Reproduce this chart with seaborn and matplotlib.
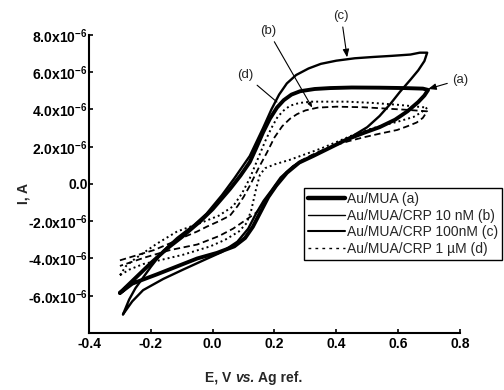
import matplotlib
matplotlib.use("Agg")
import matplotlib.pyplot as plt
from matplotlib.lines import Line2D
import seaborn as sns
import pandas as pd

# ---- data (E in V, I in microamps) ----
# (a) Au/MUA: forward branch then return branch (closed loop)
E_a = [-0.30, -0.25, -0.20, -0.147, -0.10, -0.04, 0.0, 0.056, 0.09, 0.12, 0.14, 0.163, 0.185, 0.208, 0.23,
       0.255, 0.283, 0.33, 0.38, 0.45, 0.54, 0.62, 0.68, 0.697,
       0.685, 0.665, 0.63, 0.59, 0.54, 0.49, 0.435, 0.38, 0.325, 0.28, 0.24, 0.205, 0.18, 0.155, 0.13,
       0.105, 0.07, 0.014, -0.05, -0.096, -0.18, -0.26, -0.30]
I_a = [-5.85, -5.05, -4.25, -3.46, -2.85, -2.0, -1.35, -0.27, 0.45, 1.17, 1.9, 2.77, 3.5, 4.1, 4.5,
       4.8, 4.98, 5.1, 5.15, 5.18, 5.17, 5.15, 5.12, 5.05,
       4.75, 4.4, 3.9, 3.45, 3.05, 2.75, 2.4, 1.95, 1.5, 1.15, 0.6, -0.1, -0.7, -1.5, -2.3,
       -2.9, -3.35, -3.7, -4.0, -4.3, -4.85, -5.35, -5.85]

# (b) Au/MUA/CRP 10 nM
E_b = [-0.30, -0.24, -0.19, -0.14, -0.10, -0.05, -0.02, 0.02, 0.056, 0.08, 0.10, 0.12, 0.15, 0.176, 0.20,
       0.225, 0.25, 0.273, 0.30, 0.34, 0.40, 0.487, 0.56, 0.63, 0.694,
       0.68, 0.66, 0.63, 0.597, 0.54, 0.487, 0.44, 0.40, 0.36, 0.32, 0.28, 0.25, 0.22, 0.19, 0.165, 0.14,
       0.11, 0.066, 0.02, -0.05, -0.138, -0.22, -0.30]
I_b = [-4.1, -3.8, -3.55, -3.2, -2.9, -2.55, -2.3, -2.0, -1.7, -1.2, -0.7, -0.1, 0.9, 1.7, 2.5,
       3.1, 3.5, 3.75, 3.95, 4.1, 4.15, 4.12, 4.05, 3.98, 3.9,
       3.55, 3.3, 3.1, 2.9, 2.7, 2.5, 2.3, 2.1, 1.85, 1.55, 1.2, 0.8, 0.2, -0.5, -1.1, -1.55,
       -1.9, -2.4, -2.8, -3.25, -3.55, -3.95, -4.4]

# (c) Au/MUA/CRP 100 nM
E_c = [-0.29, -0.27, -0.25, -0.20, -0.16, -0.115, -0.06, -0.02, 0.03, 0.07, 0.12, 0.163, 0.19, 0.215, 0.24,
       0.27, 0.31, 0.35, 0.40, 0.46, 0.52, 0.58, 0.64, 0.67, 0.694,
       0.685, 0.665, 0.64, 0.606, 0.575, 0.54, 0.50, 0.45, 0.41, 0.36, 0.31, 0.26, 0.22, 0.19, 0.165, 0.14,
       0.115, 0.08, 0.03, -0.03, -0.096, -0.16, -0.225, -0.26, -0.29]
I_c = [-7.0, -6.2, -5.6, -4.45, -3.6, -2.9, -2.2, -1.6, -0.6, 0.3, 1.5, 3.0, 4.0, 4.8, 5.4,
       5.85, 6.2, 6.45, 6.62, 6.75, 6.82, 6.88, 6.95, 7.05, 7.05,
       6.6, 6.1, 5.6, 4.95, 4.3, 3.65, 3.05, 2.55, 2.2, 1.8, 1.4, 0.95, 0.35, -0.35, -0.9, -1.6,
       -2.4, -3.1, -3.65, -4.1, -4.6, -5.1, -5.7, -6.3, -7.0]

# (d) Au/MUA/CRP 1 uM
E_d = [-0.30, -0.28, -0.25, -0.18, -0.115, -0.04, 0.02, 0.066, 0.095, 0.12, 0.145, 0.17, 0.19, 0.21, 0.23,
       0.25, 0.28, 0.32, 0.435, 0.52, 0.60, 0.694,
       0.675, 0.65, 0.60, 0.54, 0.49, 0.45, 0.40, 0.35, 0.30, 0.25, 0.20, 0.17, 0.153, 0.14, 0.125,
       0.11, 0.085, 0.04, -0.008, -0.096, -0.16, -0.225, -0.27, -0.30]
I_d = [-4.9, -4.4, -4.0, -3.2, -2.55, -2.1, -1.7, -1.2, -0.5, 0.3, 1.3, 2.3, 3.0, 3.6, 3.95,
       4.2, 4.35, 4.42, 4.42, 4.35, 4.25, 4.1,
       3.85, 3.6, 3.35, 3.1, 2.85, 2.6, 2.25, 1.9, 1.6, 1.3, 1.05, 0.85, 0.5, -0.3, -1.4,
       -2.1, -2.55, -3.0, -3.35, -3.8, -4.05, -4.3, -4.6, -4.9]

legend_labels = ["Au/MUA (a)", "Au/MUA/CRP 10 nM (b)", "Au/MUA/CRP 100nM (c)", "Au/MUA/CRP 1 \u00b5M (d)"]
x_ticks = [-0.4, -0.2, 0.0, 0.2, 0.4, 0.6, 0.8]
y_ticks_uA = [-6, -4, -2, 0, 2, 4, 6, 8]

sns.set_style("ticks")
plt.rcParams["font.family"] = ["Liberation Sans", "DejaVu Sans"]
plt.rcParams["mathtext.default"] = "regular"

fig = plt.figure(figsize=(5.04, 3.90), dpi=100)
ax = fig.add_axes([0.1766, 0.1462, 0.736, 0.7641])

def frame(E, I):
    return pd.DataFrame({"E": E, "I": [v * 1e-6 for v in I]})

sns.lineplot(data=frame(E_b, I_b), x="E", y="I", sort=False, estimator=None, ax=ax,
             color="black", lw=1.3, linestyle=(0, (3.5, 2)), zorder=2)
sns.lineplot(data=frame(E_d, I_d), x="E", y="I", sort=False, estimator=None, ax=ax,
             color="black", lw=1.4, linestyle=(0, (1, 1.6)), zorder=2)
sns.lineplot(data=frame(E_c, I_c), x="E", y="I", sort=False, estimator=None, ax=ax,
             color="black", lw=1.7, zorder=3)
sns.lineplot(data=frame(E_a, I_a), x="E", y="I", sort=False, estimator=None, ax=ax,
             color="black", lw=2.8, zorder=4)
for ln in ax.get_lines():
    ln.set_solid_joinstyle("round")
    ln.set_dash_joinstyle("round")

ax.set_xlim(-0.4, 0.8)
ax.set_ylim(-8e-6, 8e-6)
ax.set_xticks(x_ticks)
ax.set_xticklabels([f"{v:.1f}" for v in x_ticks], fontweight="bold", fontsize=10)
ax.set_yticks([v * 1e-6 for v in y_ticks_uA])
ax.set_yticklabels([("0.0" if v == 0 else f"{v:.1f}x10$^{{-6}}$") for v in y_ticks_uA],
                   fontweight="bold", fontsize=10)
ax.tick_params(axis="both", direction="in", length=3, width=1.2, colors="black")
ax.tick_params(axis="y", pad=1)
ax.tick_params(axis="x", pad=3)
for s in ["top", "right"]:
    ax.spines[s].set_visible(False)
for s in ["left", "bottom"]:
    ax.spines[s].set_linewidth(1.5)
    ax.spines[s].set_color("black")
ax.set_xlabel("")
ax.set_ylabel("")

fig.text(23 / 504, 1 - 194 / 390, "I, A", rotation=90, ha="center", va="center",
         fontweight="bold", fontsize=10)

# x label "E, V vs. Ag ref." with italic "vs."
y_lab = 1 - 382 / 390
parts = [("E, V", "normal"), ("vs.", "italic"), ("Ag ref.", "normal")]
fig.canvas.draw()
renderer = fig.canvas.get_renderer()
x_cur = 205 / 504
gap = 3.5 / 504
for txt, style in parts:
    t = fig.text(x_cur, y_lab, txt, ha="left", va="baseline", fontweight="bold",
                 fontstyle=style, fontsize=10)
    bb = t.get_window_extent(renderer=renderer)
    x_cur += bb.width / fig.bbox.width + gap

# annotations
akw = dict(color="black", lw=0.8)
ax.annotate("(c)", xy=(0.435, 6.8e-6), xytext=(0.416, 9.0e-6), ha="center", va="center",
            fontsize=9.5, annotation_clip=False,
            arrowprops=dict(arrowstyle="-|>,head_length=0.5,head_width=0.2", shrinkA=1, shrinkB=0, **akw))
ax.annotate("(b)", xy=(0.322, 4.1e-6), xytext=(0.18, 8.2e-6), ha="center", va="center",
            fontsize=9.5, annotation_clip=False,
            arrowprops=dict(arrowstyle="-|>,head_length=0.3,head_width=0.12", shrinkA=1, shrinkB=0, **akw))
ax.annotate("(d)", xy=(0.208, 4.4e-6), xytext=(0.105, 5.85e-6), ha="center", va="center",
            fontsize=9.5, annotation_clip=False,
            arrowprops=dict(arrowstyle="-", shrinkA=1, shrinkB=0, **akw))
ax.annotate("(a)", xy=(0.697, 5.1e-6), xytext=(0.80, 5.6e-6), ha="center", va="center",
            fontsize=9.5, annotation_clip=False,
            arrowprops=dict(arrowstyle="-|>,head_length=0.5,head_width=0.2", shrinkA=1, shrinkB=0, **akw))

handles = [
    Line2D([], [], color="black", lw=3.2),
    Line2D([], [], color="black", lw=1.0),
    Line2D([], [], color="black", lw=1.5),
    Line2D([], [], color="black", lw=1.0, linestyle=(0, (2, 3))),
]
leg = fig.legend(handles, legend_labels, loc="upper left", bbox_to_anchor=(304 / 504, 1 - 188 / 390),
                 fontsize=10, frameon=True, fancybox=False, edgecolor="black", framealpha=1,
                 handlelength=2.65, handletextpad=0.15, borderpad=0.3, labelspacing=0.18,
                 borderaxespad=0)
leg.get_frame().set_linewidth(1.0)

fig.savefig("out.png", dpi=100)
